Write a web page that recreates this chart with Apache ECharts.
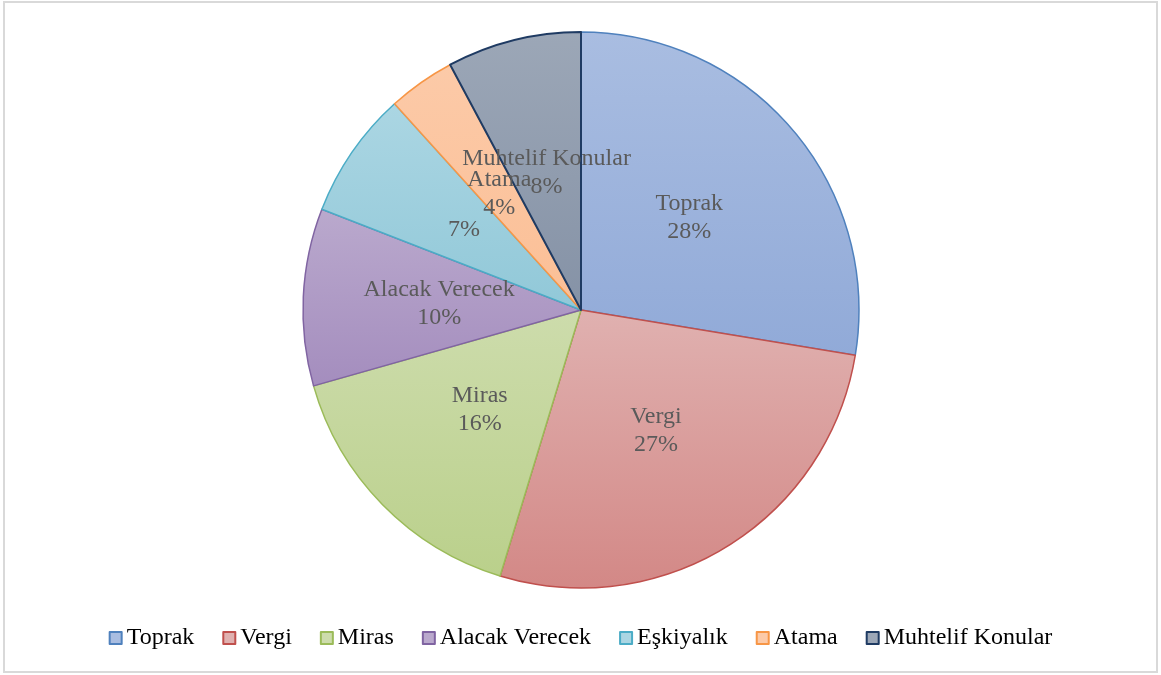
<!DOCTYPE html>
<html>
<head>
<meta charset="utf-8">
<script src="https://cdn.jsdelivr.net/npm/echarts@6/dist/echarts.min.js"></script>
<style>
  html, body { margin: 0; padding: 0; background: #fff; }
  #chartPie { width: 1161px; height: 675px; }
</style>
</head>
<body>
<div id="chartPie"></div>
<script>
  // konular ve yüzdeler
  var categories = ['Toprak', 'Vergi', 'Miras', 'Alacak Verecek', 'Eşkiyalık', 'Atama', 'Muhtelif Konular'];
  var values = [27.6, 27.1, 15.9, 10.3, 7.4, 3.9, 7.8];
  // dilim etiketlerinde görünen adlar (Eşkiyalık adı yok)
  var labelNames = ['Toprak', 'Vergi', 'Miras', 'Alacak Verecek', '', 'Atama', 'Muhtelif Konular'];

  var fillTop = ['#a9bde1', '#e0b1b0', '#cddcac', '#baa9cd', '#abd6e3', '#fccaa8', '#9ca7b7'];
  var fillBottom = ['#91aad8', '#d38886', '#bad08b', '#a48dbe', '#91c8d8', '#fbbf96', '#8592a6'];
  var borders = ['#4f81bd', '#c0504d', '#9bbb59', '#8064a2', '#4bacc6', '#f79646', '#1f3b63'];

  var seriesData = categories.map(function (c, i) {
    return {
      name: c,
      value: values[i],
      itemStyle: {
        color: new echarts.graphic.LinearGradient(0, 0, 0, 1, [
          { offset: 0, color: fillTop[i] },
          { offset: 1, color: fillBottom[i] }
        ]),
        borderColor: borders[i],
        borderWidth: i === 6 ? 2 : 1.5
      }
    };
  });

  var chart = echarts.init(document.getElementById('chartPie'));
  chart.setOption({
    animation: false,
    graphic: [{
      type: 'rect',
      shape: { x: 4, y: 2, width: 1153, height: 670 },
      style: { fill: 'none', stroke: '#d9d9d9', lineWidth: 2 },
      silent: true
    }],
    legend: {
      bottom: 20,
      left: 'center',
      itemWidth: 12,
      itemHeight: 12,
      itemGap: 28,
      icon: 'rect',
      textStyle: { fontFamily: 'Liberation Serif', fontSize: 24, color: '#000' },
      data: categories.map(function (c, i) {
        return {
          name: c,
          itemStyle: { color: fillTop[i], borderColor: borders[i], borderWidth: 2 }
        };
      })
    },
    series: [{
      type: 'pie',
      center: [581, 310],
      radius: 278,
      startAngle: 90,
      clockwise: true,
      avoidLabelOverlap: false,
      labelLayout: { hideOverlap: false },
      data: seriesData,
      label: {
        show: true,
        position: 'inside',
        fontFamily: 'Liberation Serif',
        fontSize: 24,
        lineHeight: 28,
        color: '#5a5a5a',
        formatter: function (p) {
          var pct = Math.round(p.percent) + '%';
          var n = labelNames[p.dataIndex];
          return n ? n + '\n' + pct : pct;
        }
      },
      labelLine: { show: false },
      emphasis: { disabled: true }
    }]
  });
</script>
</body>
</html>
